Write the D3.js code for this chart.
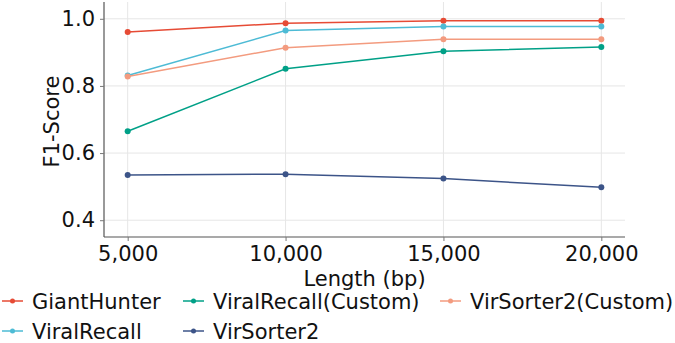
<!DOCTYPE html>
<html>
<head>
<meta charset="utf-8">
<script src="https://cdn.jsdelivr.net/npm/d3@7"></script>
<style>
  body { margin: 0; background: #fff; }
  text { font-family: "DejaVu Sans", sans-serif; fill: #111; }
</style>
</head>
<body>
<div id="chart"></div>
<script>
// Data
const lengths = [5000, 10000, 15000, 20000];
const seriesNames = ["GiantHunter", "ViralRecall", "ViralRecall(Custom)", "VirSorter2", "VirSorter2(Custom)"];
const seriesColors = ["#E64B35", "#4DBBD5", "#00A087", "#3C5488", "#F39B7F"];
const giantHunter = [0.961, 0.987, 0.994, 0.994];
const viralRecall = [0.831, 0.965, 0.977, 0.977];
const viralRecallCustom = [0.665, 0.851, 0.903, 0.916];
const virSorter2 = [0.535, 0.537, 0.524, 0.498];
const virSorter2Custom = [0.828, 0.914, 0.939, 0.939];
const yTicks = [0.4, 0.6, 0.8, 1.0];

const seriesValues = [giantHunter, viralRecall, viralRecallCustom, virSorter2, virSorter2Custom];
const series = seriesNames.map((name, i) => ({
  name,
  color: seriesColors[i],
  points: lengths.map((x, j) => ({ x, y: seriesValues[i][j] }))
}));

// Dimensions
const width = 675;
const height = 343;
const plot = { left: 104, right: 625, top: 2, bottom: 237 };
const fontSize = 21;

const x = d3.scaleLinear().domain([4250, 20750]).range([plot.left, plot.right]);
const y = d3.scaleLinear().domain([0.35, 1.05]).range([plot.bottom, plot.top]);

const svg = d3.select("#chart")
  .append("svg")
  .attr("width", width)
  .attr("height", height);

// Grid
svg.append("g")
  .selectAll("line")
  .data(yTicks)
  .enter()
  .append("line")
  .attr("x1", plot.left)
  .attr("x2", plot.right)
  .attr("y1", (d) => y(d))
  .attr("y2", (d) => y(d))
  .attr("stroke", "#e6e6e6")
  .attr("stroke-width", 1);

svg.append("g")
  .selectAll("line")
  .data(lengths)
  .enter()
  .append("line")
  .attr("x1", (d) => x(d))
  .attr("x2", (d) => x(d))
  .attr("y1", plot.top)
  .attr("y2", plot.bottom)
  .attr("stroke", "#e6e6e6")
  .attr("stroke-width", 1);

// Axes
const xAxis = svg.append("g")
  .attr("transform", `translate(0,${plot.bottom})`)
  .call(d3.axisBottom(x).tickValues(lengths).tickFormat(d3.format(",")).tickSize(4).tickPadding(5));

const yAxis = svg.append("g")
  .attr("transform", `translate(${plot.left},0)`)
  .call(d3.axisLeft(y).tickValues(yTicks).tickFormat(d3.format(".1f")).tickSize(4).tickPadding(5));

[xAxis, yAxis].forEach((ax) => {
  ax.select(".domain").attr("stroke", "#555").attr("stroke-width", 1.2);
  ax.selectAll(".tick line").attr("stroke", "#777").attr("stroke-width", 1);
  ax.selectAll(".tick text")
    .attr("font-family", "DejaVu Sans")
    .attr("font-size", fontSize)
    .attr("fill", "#111");
});
yAxis.select(".domain").attr("d", `M0,${plot.top}V${plot.bottom}`);
xAxis.select(".domain").attr("d", `M${plot.left},0H${plot.right}`);

// Axis titles
svg.append("text")
  .attr("x", (plot.left + plot.right) / 2)
  .attr("y", 286)
  .attr("text-anchor", "middle")
  .attr("font-size", fontSize)
  .text("Length (bp)");

svg.append("text")
  .attr("transform", `translate(59,${(plot.top + plot.bottom) / 2 + 2}) rotate(-90)`)
  .attr("text-anchor", "middle")
  .attr("font-size", fontSize)
  .text("F1-Score");

// Lines and points
const line = d3.line().x((d) => x(d.x)).y((d) => y(d.y));

const groups = svg.append("g")
  .selectAll("g")
  .data(series)
  .enter()
  .append("g");

groups.append("path")
  .attr("d", (d) => line(d.points))
  .attr("fill", "none")
  .attr("stroke", (d) => d.color)
  .attr("stroke-width", 1.5);

groups.selectAll("circle")
  .data((d) => d.points.map((p) => ({ ...p, color: d.color })))
  .enter()
  .append("circle")
  .attr("cx", (d) => x(d.x))
  .attr("cy", (d) => y(d.y))
  .attr("r", 3)
  .attr("fill", (d) => d.color);

// Legend (column-major, 3 columns)
const legendCols = [2, 183, 440];
const legendRows = [301, 331];

const legend = svg.append("g")
  .selectAll("g")
  .data(series)
  .enter()
  .append("g")
  .attr("transform", (d, i) => `translate(${legendCols[Math.floor(i / 2)]},${legendRows[i % 2]})`);

legend.append("line")
  .attr("x1", 0)
  .attr("x2", 21)
  .attr("stroke", (d) => d.color)
  .attr("stroke-width", 1.5);

legend.append("circle")
  .attr("cx", 10.5)
  .attr("r", 2.5)
  .attr("fill", (d) => d.color);

legend.append("text")
  .attr("x", 30)
  .attr("y", 8)
  .attr("font-size", fontSize)
  .text((d) => d.name);
</script>
</body>
</html>
